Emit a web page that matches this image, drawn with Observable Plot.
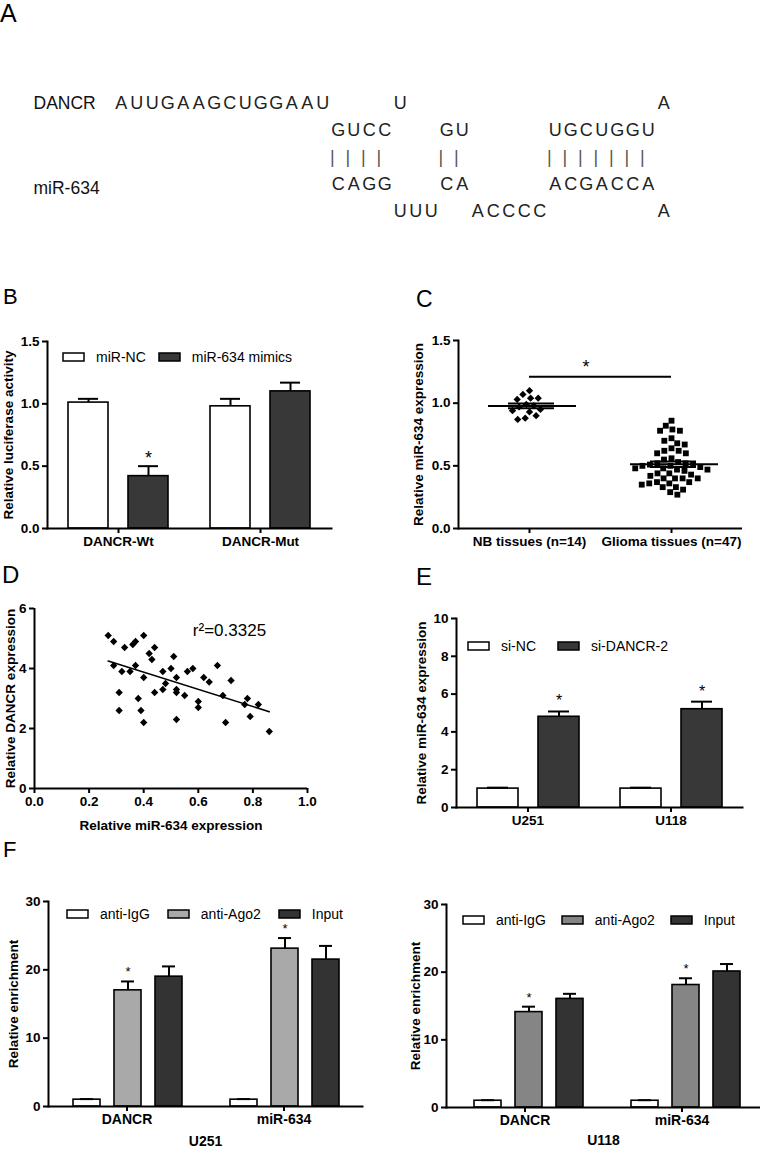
<!DOCTYPE html>
<html>
<head>
<meta charset="utf-8">
<script src="https://cdn.jsdelivr.net/npm/d3@7"></script>
<script src="https://cdn.jsdelivr.net/npm/@observablehq/plot@0.6"></script>
<style>
  body { margin: 0; background: #fff; }
  #fig { position: relative; width: 760px; height: 1150px; overflow: hidden; background: #fff;
         font-family: 'Liberation Sans', Arial, Helvetica, sans-serif; color: #000; }
  .panel { position: absolute; }
  .plbl { position: absolute; line-height: 1; color: #000; }
  .lg-swatches { margin: 0 !important; min-height: 20px !important; }
  .lg-swatch > svg { margin-right: 12px !important; overflow: visible !important; }
  .lg-swatch rect { stroke: #000; stroke-width: 1.5px; }
</style>
</head>
<body>
<div id="fig"></div>
<script>
// ---------------- DATA ----------------
// Panel A: base-pairing between DANCR and miR-634
const seqRows = ["DANCR unpaired", "DANCR paired", "bonds", "miR paired", "miR unpaired"];
const seqSegments = [            // [row, start column, letters]
  ["DANCR unpaired", 0, "AUUGAAGCUGGAAU"], ["DANCR unpaired", 18, "U"], ["DANCR unpaired", 35, "A"],
  ["DANCR paired", 14, "GUCC"], ["DANCR paired", 21, "GU"], ["DANCR paired", 28, "UGCUGGU"],
  ["bonds", 14, "||||"], ["bonds", 21, "||"], ["bonds", 28, "|||||||"],
  ["miR paired", 14, "CAGG"], ["miR paired", 21, "CA"], ["miR paired", 28, "ACGACCA"],
  ["miR unpaired", 18, "UUU"], ["miR unpaired", 23, "ACCCC"], ["miR unpaired", 35, "A"]
];
const seqLabelDANCR = ["DANCR unpaired", "DANCR"];
const seqLabelMiR = ["miR paired", "miR-634"];

// Panel B: luciferase reporter
const bCats = ["DANCR-Wt", "DANCR-Mut"];
const bSeries = ["miR-NC", "miR-634 mimics"];
const bNC = [1.01, 0.98];
const bNCErr = [0.03, 0.06];
const bMimics = [0.42, 1.10];
const bMimicsErr = [0.08, 0.07];
const bMimicsStar = [true, false];
const bTicks = [0, 0.5, 1.0, 1.5];

// Panel C: miR-634 in tissues
const cGroups = ["NB tissues (n=14)", "Glioma tissues (n=47)"];
const cNB = [1.10, 1.07, 1.04, 1.04, 1.03, 0.99, 0.98, 0.97, 0.95, 0.94, 0.93, 0.90, 0.88, 0.87];
const cGlioma = [0.86, 0.82, 0.79, 0.78, 0.78, 0.72, 0.70, 0.68, 0.67, 0.64, 0.62, 0.62, 0.60, 0.60,
  0.56, 0.55, 0.53, 0.52, 0.52, 0.51, 0.51, 0.50, 0.50, 0.49, 0.48, 0.48, 0.47, 0.47, 0.46, 0.44,
  0.44, 0.43, 0.42, 0.40, 0.40, 0.40, 0.40, 0.37, 0.37, 0.36, 0.36, 0.35, 0.33, 0.33, 0.31, 0.29, 0.27];
const cSigLevel = 1.21;
const cTicks = [0, 0.5, 1.0, 1.5];

// Panel D: correlation
const dMir = [0.27, 0.29, 0.29, 0.33, 0.32, 0.31, 0.31, 0.36, 0.37, 0.37, 0.35, 0.38, 0.39, 0.40, 0.40,
  0.40, 0.42, 0.43, 0.44, 0.44, 0.47, 0.47, 0.48, 0.50, 0.51, 0.52, 0.52, 0.52, 0.52, 0.55,
  0.56, 0.58, 0.60, 0.60, 0.62, 0.64, 0.67, 0.69, 0.70, 0.72, 0.77, 0.78, 0.79, 0.82, 0.86];
const dDancr = [5.1, 4.9, 4.1, 4.7, 3.9, 3.2, 2.6, 4.8, 4.9, 4.1, 3.9, 3.0, 2.6, 2.2, 3.7,
  5.1, 4.5, 4.3, 4.7, 3.2, 3.9, 3.3, 3.5, 4.0, 4.4, 3.7, 3.3, 3.2, 2.3, 3.1,
  3.9, 4.0, 2.9, 2.7, 3.7, 3.55, 4.1, 3.1, 2.2, 3.6, 2.8, 3.0, 2.4, 2.8, 1.9];
const dR2Text = "r\u00B2=0.3325";
const dR2At = [0.58, 5.27];
const dXTicks = [0, 0.2, 0.4, 0.6, 0.8, 1.0];
const dYTicks = [0, 2, 4, 6];

// Panel E: miR-634 after DANCR knockdown
const eCats = ["U251", "U118"];
const eSeries = ["si-NC", "si-DANCR-2"];
const eNC = [1.0, 1.0];
const eNCErr = [0.05, 0.05];
const eSi = [4.8, 5.2];
const eSiErr = [0.28, 0.4];
const eSiStar = [true, true];
const eTicks = [0, 2, 4, 6, 8, 10];

// Panel F: RIP assay
const fCats = ["DANCR", "miR-634"];
const fSeries = ["anti-IgG", "anti-Ago2", "Input"];
const fTicks = [0, 10, 20, 30];
const f1IgG = [1.0, 1.0], f1IgGErr = [0.08, 0.08];
const f1Ago2 = [17.0, 23.1], f1Ago2Err = [1.3, 1.55];
const f1Input = [19.0, 21.5], f1InputErr = [1.5, 2.0];
const f2IgG = [1.0, 1.0], f2IgGErr = [0.08, 0.08];
const f2Ago2 = [14.1, 18.1], f2Ago2Err = [0.8, 1.0];
const f2Input = [16.05, 20.1], f2InputErr = [0.75, 1.1];
const fAgo2Star = [true, true];
const noStar = [false, false];

// ---------------- HELPERS ----------------
const FONT = "'Liberation Sans', Arial, Helvetica, sans-serif";
const fig = document.getElementById("fig");
const baseStyle = {fontFamily: FONT, fontSize: "13.5px", fontWeight: "bold", color: "#000", background: "none", overflow: "visible"};

function place(node, left, top) {
  const d = document.createElement("div");
  d.className = "panel";
  d.style.left = left + "px";
  d.style.top = top + "px";
  d.appendChild(node);
  fig.appendChild(d);
  return d;
}
function panelLetter(t, left, baseline, size) {
  const d = document.createElement("div");
  d.className = "plbl";
  d.textContent = t;
  d.style.fontSize = size + "px";
  d.style.left = left + "px";
  d.style.top = (baseline - 0.8465 * size) + "px";
  fig.appendChild(d);
}
function legend(series, colors, left, cy, gap) {
  const node = Plot.legend({
    color: {type: "ordinal", domain: series, range: colors},
    swatchWidth: 21, swatchHeight: 8, className: "lg",
    style: {fontFamily: FONT, fontSize: "14px", fontWeight: "normal", color: "#000"}
  });
  node.querySelectorAll(".lg-swatch").forEach(s => s.style.marginRight = gap + "px");
  place(node, left, cy - 10);
}
function safe(name, fn) {
  try { fn(); } catch (e) { console.error(name + ": " + e.message); }
}

function groupedBars(cfg) {
  const rows = [];
  cfg.cats.forEach((cat, i) => cfg.series.forEach((s, j) => rows.push({
    cat, series: s, value: cfg.values[j][i], top: cfg.values[j][i] + cfg.errors[j][i], star: cfg.stars[j][i]
  })));
  const fx = {domain: cfg.cats, padding: 0, label: null};
  if (cfg.fxRange) fx.range = cfg.fxRange;
  return Plot.plot({
    width: cfg.width, height: cfg.height,
    marginLeft: cfg.ml, marginRight: cfg.mr, marginTop: cfg.mt, marginBottom: cfg.mb,
    style: baseStyle,
    fx,
    x: {domain: cfg.series, paddingInner: cfg.pi, paddingOuter: cfg.po, align: cfg.align ?? 0.5, axis: null},
    y: {domain: cfg.yDomain},
    color: {domain: cfg.series, range: cfg.colors},
    marks: [
      Plot.barY(rows, {fx: "cat", x: "series", y: "value", fill: "series", stroke: "#000", strokeWidth: 1.6}),
      Plot.ruleX(rows, {fx: "cat", x: "series", y1: "value", y2: "top", stroke: "#000", strokeWidth: 2}),
      Plot.tickY(rows, {fx: "cat", x: "series", y: "top", stroke: "#000", strokeWidth: 2, insetLeft: cfg.cap, insetRight: cfg.cap}),
      Plot.text(rows.filter(d => d.star), {fx: "cat", x: "series", y: "top", text: () => "*",
        lineAnchor: "bottom", dy: cfg.starDy, fontSize: cfg.starSize, fontWeight: "normal"}),
      Plot.axisY({ticks: cfg.yTicks, tickFormat: cfg.yFormat, tickSize: 5, tickPadding: 3, strokeWidth: 2,
        label: cfg.yLabel, labelAnchor: "center", labelOffset: cfg.labelOffset, labelArrow: "none"}),
      Plot.axisFx({anchor: "bottom", tickSize: 5, tickPadding: 3, strokeWidth: 2,
        label: cfg.xTitle ?? null, labelAnchor: "center", labelOffset: cfg.xTitleOffset, labelArrow: "none",
        fontSize: cfg.xTitleSize}),
      Plot.frame({anchor: "left", facet: "super", strokeWidth: 2}),
      Plot.frame({anchor: "bottom", facet: "super", strokeWidth: 2})
    ]
  });
}

// ---------------- PANEL LETTERS ----------------
panelLetter("A", 0, 22, 25);
panelLetter("B", 3, 305, 22);
panelLetter("C", 416, 307, 23);
panelLetter("D", 2, 583, 24);
panelLetter("E", 416, 585, 24);
panelLetter("F", 3, 858, 22);

// ---------------- PANEL A ----------------
safe("A", () => {
  const chars = [];
  for (const [row, start, letters] of seqSegments)
    [...letters].forEach((ch, i) => chars.push({row, col: start + i + 0.5, ch}));
  const a = Plot.plot({
    width: 760, height: 180, marginLeft: 113, marginRight: 89, marginTop: 42, marginBottom: 28,
    style: {...baseStyle, fontWeight: "normal", fontSize: "18px"},
    x: {domain: [0, 36], axis: null},
    y: {domain: seqRows, padding: 0, axis: null},
    marks: [
      Plot.text(chars.filter(d => d.row !== "bonds"), {x: "col", y: "row", text: "ch", fontSize: 18, fill: "#222"}),
      Plot.text(chars.filter(d => d.row === "bonds"), {x: "col", y: "row", text: "ch", fontSize: 18, dx: -6, fill: "#555"}),
      Plot.text([seqLabelDANCR], {y: d => d[0], text: d => d[1], frameAnchor: "left", textAnchor: "start",
        dx: -80, fontSize: 17.5, fill: "#111"}),
      Plot.text([seqLabelMiR], {y: d => d[0], text: d => d[1], frameAnchor: "left", textAnchor: "start",
        dx: -80, dy: 4, fontSize: 17.5, fill: "#111"})
    ]
  });
  place(a, 0, 60);
});

// ---------------- PANEL B ----------------
safe("B", () => {
  const b = groupedBars({
    cats: bCats, series: bSeries, values: [bNC, bMimics], errors: [bNCErr, bMimicsErr],
    stars: [[false, false], bMimicsStar], colors: ["#ffffff", "#383838"],
    width: 380, height: 270, ml: 47, mr: 7, mt: 61, mb: 22, fxRange: [47, 331],
    pi: 0.33, po: 0.33, cap: 10, starDy: -2, starSize: 18,
    yDomain: [0, 1.5], yTicks: bTicks, yFormat: ".1f", yLabel: "Relative luciferase activity", labelOffset: 44
  });
  place(b, 0, 280);
  legend(bSeries, ["#ffffff", "#383838"], 63, 357, 13);
});

// ---------------- PANEL C ----------------
safe("C", () => {
  const rows = [...cNB.map(v => ({group: cGroups[0], value: v})), ...cGlioma.map(v => ({group: cGroups[1], value: v}))];
  const sem = v => d3.deviation(v) / Math.sqrt(v.length);
  const lo = v => d3.mean(v) - sem(v), hi = v => d3.mean(v) + sem(v);
  const c = Plot.plot({
    width: 380, height: 270, marginLeft: 77, marginRight: 18, marginTop: 60, marginBottom: 22,
    style: baseStyle,
    fx: {domain: cGroups, padding: 0, label: null},
    y: {domain: [0, 1.5]},
    marks: [
      Plot.dot(rows.filter(d => d.group === cGroups[0]), Plot.dodgeX("middle", {fx: "group", y: "value", r: 3.3, symbol: "diamond2", fill: "#000", padding: 1})),
      Plot.dot(rows.filter(d => d.group === cGroups[1]), Plot.dodgeX("middle", {fx: "group", y: "value", r: 3.3, symbol: "square", fill: "#000", padding: 1.5})),
      Plot.tickY(rows, Plot.groupZ({y: "mean"}, {fx: "group", y: "value", strokeWidth: 2, insetLeft: 30, insetRight: 24})),
      Plot.tickY(rows, Plot.groupZ({y: lo}, {fx: "group", y: "value", strokeWidth: 2, insetLeft: 50, insetRight: 46})),
      Plot.tickY(rows, Plot.groupZ({y: hi}, {fx: "group", y: "value", strokeWidth: 2, insetLeft: 50, insetRight: 46})),
      Plot.ruleX(rows, Plot.groupZ({y1: lo, y2: hi}, {fx: "group", y1: "value", y2: "value", strokeWidth: 2})),
      Plot.ruleY([{group: cGroups[0], level: cSigLevel}], {fx: "group", y: "level", strokeWidth: 2, insetLeft: 71}),
      Plot.ruleY([{group: cGroups[1], level: cSigLevel}], {fx: "group", y: "level", strokeWidth: 2, insetRight: 71}),
      Plot.text([{group: cGroups[0], level: cSigLevel}], {fx: "group", y: "level", text: () => "*", frameAnchor: "right",
        dx: -11, dy: -4, lineAnchor: "bottom", fontSize: 18, fontWeight: "normal"}),
      Plot.ruleY([0], {strokeWidth: 2}),
      Plot.axisY({ticks: cTicks, tickFormat: ".1f", tickSize: 5, tickPadding: 3, strokeWidth: 2,
        label: "Relative miR-634 expression", labelAnchor: "center", labelOffset: 45, labelArrow: "none"}),
      Plot.axisFx({anchor: "bottom", tickSize: 5, tickPadding: 3, strokeWidth: 2, label: null}),
      Plot.frame({anchor: "left", facet: "super", strokeWidth: 2})
    ]
  });
  place(c, 380, 280);
});

// ---------------- PANEL D ----------------
safe("D", () => {
  const rows = dMir.map((x, i) => ({x, y: dDancr[i]}));
  const d = Plot.plot({
    width: 380, height: 250, marginLeft: 34, marginRight: 73, marginTop: 18, marginBottom: 52,
    style: baseStyle,
    x: {domain: [0, 1]},
    y: {domain: [0, 6]},
    marks: [
      Plot.dot(rows, {x: "x", y: "y", r: 3.3, symbol: "diamond2", fill: "#000"}),
      Plot.linearRegressionY(rows, {x: "x", y: "y", ci: 0, stroke: "#000", strokeWidth: 1.6}),
      Plot.text([dR2Text], {x: dR2At[0], y: dR2At[1], text: d => d, textAnchor: "start", fontSize: 17, fontWeight: "normal"}),
      Plot.axisX({ticks: dXTicks, tickFormat: ".1f", tickSize: 5, tickPadding: 3, strokeWidth: 2,
        label: "Relative miR-634 expression", labelAnchor: "center", labelOffset: 41, labelArrow: "none"}),
      Plot.axisY({ticks: dYTicks, tickFormat: "d", tickSize: 5, tickPadding: 3, strokeWidth: 2,
        label: "Relative DANCR expression", labelAnchor: "center", labelOffset: 29, labelArrow: "none"}),
      Plot.ruleX([0], {strokeWidth: 2}),
      Plot.ruleY([0], {strokeWidth: 2})
    ]
  });
  place(d, 0, 590);
});

// ---------------- PANEL E ----------------
safe("E", () => {
  const e = groupedBars({
    cats: eCats, series: eSeries, values: [eNC, eSi], errors: [eNCErr, eSiErr],
    stars: [[false, false], eSiStar], colors: ["#ffffff", "#383838"],
    width: 380, height: 250, ml: 75, mr: 18, mt: 28, mb: 33,
    pi: 0.33, po: 0.33, cap: 10, starDy: -5, starSize: 16,
    yDomain: [0, 10], yTicks: eTicks, yFormat: "d", yLabel: "Relative miR-634 expression", labelOffset: 40
  });
  place(e, 380, 590);
  legend(eSeries, ["#ffffff", "#383838"], 468, 646, 22);
});

// ---------------- PANEL F ----------------
safe("F1", () => {
  const f = groupedBars({
    cats: fCats, series: fSeries, values: [f1IgG, f1Ago2, f1Input], errors: [f1IgGErr, f1Ago2Err, f1InputErr],
    stars: [noStar, fAgo2Star, noStar], colors: ["#ffffff", "#a9a9a9", "#333333"],
    width: 380, height: 270, ml: 48, mr: 18, mt: 21, mb: 44,
    pi: 0.33, po: 0.56, align: 0.53, cap: 7, starDy: -5, starSize: 13,
    yDomain: [0, 30], yTicks: fTicks, yFormat: "d", yLabel: "Relative enrichment", labelOffset: 40,
    xTitle: "U251", xTitleOffset: 39, xTitleSize: 14
  });
  place(f, 0, 880);
  legend(fSeries, ["#ffffff", "#a9a9a9", "#333333"], 67, 914, 18);
});
safe("F2", () => {
  const f = groupedBars({
    cats: fCats, series: fSeries, values: [f2IgG, f2Ago2, f2Input], errors: [f2IgGErr, f2Ago2Err, f2InputErr],
    stars: [noStar, fAgo2Star, noStar], colors: ["#ffffff", "#858585", "#333333"],
    width: 380, height: 270, ml: 65, mr: 0, mt: 24, mb: 43,
    pi: 0.33, po: 0.56, align: 0.58, cap: 7, starDy: -5, starSize: 13,
    yDomain: [0, 30], yTicks: fTicks, yFormat: "d", yLabel: "Relative enrichment", labelOffset: 36,
    xTitle: "U118", xTitleOffset: 37, xTitleSize: 14
  });
  place(f, 380, 880);
  legend(fSeries, ["#ffffff", "#858585", "#333333"], 463, 920, 16);
});
</script>
</body>
</html>
